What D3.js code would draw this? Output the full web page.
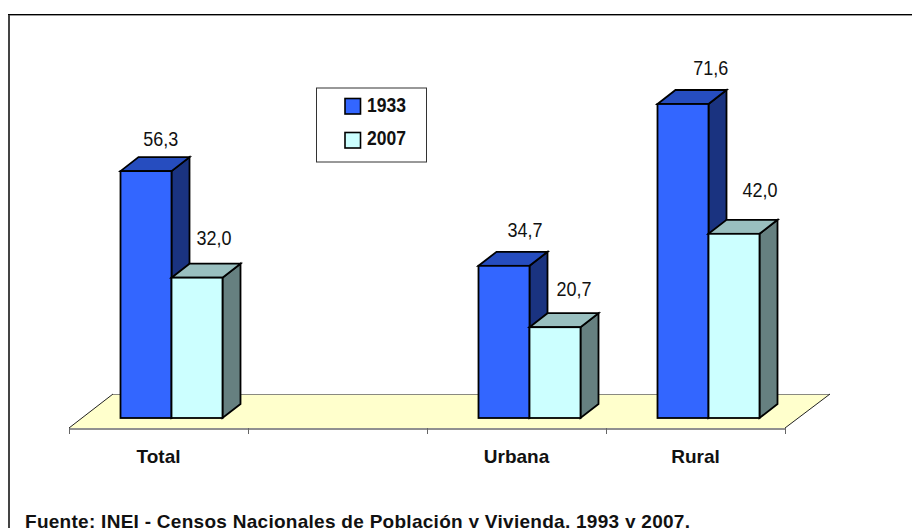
<!DOCTYPE html>
<html><head><meta charset="utf-8">
<script src="https://cdn.jsdelivr.net/npm/d3@7"></script>
<style>html,body{margin:0;padding:0;background:#fff}svg{display:block}text{font-family:"Liberation Sans",Arial,sans-serif}</style>
</head><body><div id="c"></div>
<script>
const categories = ["Total", "", "Urbana", "Rural"];
const seriesNames = ["1933", "2007"];
const values1933 = [56.3, null, 34.7, 71.6];
const values2007 = [32.0, null, 20.7, 42.0];
const labelFmt = v => v.toFixed(1).replace(".", ",");

const faces = [
  {front:"#3366ff", top:"#264dbf", side:"#1a3380"},
  {front:"#ccffff", top:"#99bfbf", side:"#668080"}
];
// hand-placed label offsets of the original chart, keyed by category + series
const labelNudge = {
  "Total1933":[-3.3,4], "Total2007":[-1,-4],
  "Urbana1933":[3,0], "Urbana2007":[1,-2],
  "Rural1933":[9.7,0], "Rural2007":[8,-8]
};
const W=912,H=528;
const svg=d3.select("#c").append("svg").attr("width",W).attr("height",H);
svg.append("rect").attr("width",W).attr("height",H).attr("fill","#fff");
svg.append("line").attr("x1",9).attr("x2",9).attr("y1",14).attr("y2",H).attr("stroke","#444").attr("stroke-width",2);
svg.append("line").attr("x1",8).attr("x2",W).attr("y1",14.5).attr("y2",14.5).attr("stroke","#000").attr("stroke-width",1);
svg.append("line").attr("x1",10).attr("x2",W).attr("y1",15.5).attr("y2",15.5).attr("stroke","#999").attr("stroke-width",1);

const x=d3.scaleBand().domain(categories).range([69,785]);
const y=d3.scaleLinear().domain([0,71.6]).range([418,104]);
const bx=d3.scaleBand().domain(seriesNames).range([51.5,153.5]);
const dx=18,dy=14;

// floor
const g=svg.append("g");
g.append("path").attr("fill","#ffffcc").attr("stroke","none")
  .attr("d",`M69,428L785,428L830,394L113,394Z`);
g.append("path").attr("fill","none").attr("stroke","#8a8a80").attr("stroke-width",1).attr("d",`M113,394.5L830,394.5`);
g.append("path").attr("fill","none").attr("stroke","#222").attr("stroke-width",1).attr("d",`M69,428L113,394M785,428L830,394`);

// axis
const axis=d3.axisBottom(x).tickSize(0).tickFormat(d=>d);
const axG=svg.append("g").attr("transform","translate(0,428.5)").call(axis);
axG.select(".domain").attr("stroke","#222").attr("stroke-width",1);
axG.selectAll(".tick").remove();
const edges=categories.map(c=>x(c)).concat([x.range()[1]]);
svg.append("g").selectAll("line").data(edges).join("line")
  .attr("x1",d=>d+.5).attr("x2",d=>d+.5).attr("y1",428).attr("y2",434).attr("stroke","#666");
svg.append("g").selectAll("text").data(categories).join("text")
  .attr("x",d=>x(d)+89.5).attr("y",462.5).attr("text-anchor","middle")
  .attr("font-size",19).attr("font-weight","bold").attr("fill","#111").text(d=>d);

// bars
const rows=[];
categories.forEach((c,i)=>{
  if(values1933[i]!=null) rows.push({c,s:"1933",v:values1933[i],f:faces[0]});
  if(values2007[i]!=null) rows.push({c,s:"2007",v:values2007[i],f:faces[1]});
});
const bars=svg.append("g").selectAll("g").data(rows).join("g")
  .attr("stroke","#000").attr("stroke-width",1.8).attr("stroke-linejoin","miter");
const X0=d=>x(d.c)+bx(d.s), X1=d=>X0(d)+bx.bandwidth();
bars.append("path").attr("fill",d=>d.f.side)
  .attr("d",d=>`M${X1(d)},${y(d.v)}L${X1(d)+dx},${y(d.v)-dy}L${X1(d)+dx},${y(0)-dy}L${X1(d)},${y(0)}Z`);
bars.append("path").attr("fill",d=>d.f.top)
  .attr("d",d=>`M${X0(d)},${y(d.v)}L${X0(d)+dx},${y(d.v)-dy}L${X1(d)+dx},${y(d.v)-dy}L${X1(d)},${y(d.v)}Z`);
bars.append("rect").attr("fill",d=>d.f.front)
  .attr("x",X0).attr("y",d=>y(d.v)).attr("width",bx.bandwidth()).attr("height",d=>y(0)-y(d.v));
svg.append("g").selectAll("text").data(rows).join("text")
  .attr("x",d=>(X0(d)+X1(d))/2+dx+labelNudge[d.c+d.s][0]).attr("y",d=>y(d.v)-dy-15+labelNudge[d.c+d.s][1])
  .attr("text-anchor","middle").attr("font-size",20.5).attr("fill","#111")
  .attr("textLength",35).attr("lengthAdjust","spacingAndGlyphs").text(d=>labelFmt(d.v));

// legend
svg.append("rect").attr("x",316.5).attr("y",88).attr("width",110).attr("height",74)
  .attr("fill","#fff").attr("stroke","#333");
const lg=svg.append("g").selectAll("g").data(seriesNames).join("g");
lg.append("rect").attr("x",345).attr("y",(d,i)=>98.5+i*34).attr("width",15.5).attr("height",15.5)
  .attr("fill",(d,i)=>faces[i].front).attr("stroke","#000").attr("stroke-width",1.6);
lg.append("text").attr("x",367).attr("y",(d,i)=>111.5+i*33.5).attr("font-size",21).attr("font-weight","bold")
  .attr("fill","#111").attr("textLength",39).attr("lengthAdjust","spacingAndGlyphs").text(d=>d);

svg.append("text").attr("x",25).attr("y",527.5).attr("font-size",19).attr("font-weight","bold").attr("fill","#111")
  .attr("textLength",665).attr("lengthAdjust","spacing").text("Fuente: INEI - Censos Nacionales de Población y Vivienda, 1993 y 2007.");
</script></body></html>
